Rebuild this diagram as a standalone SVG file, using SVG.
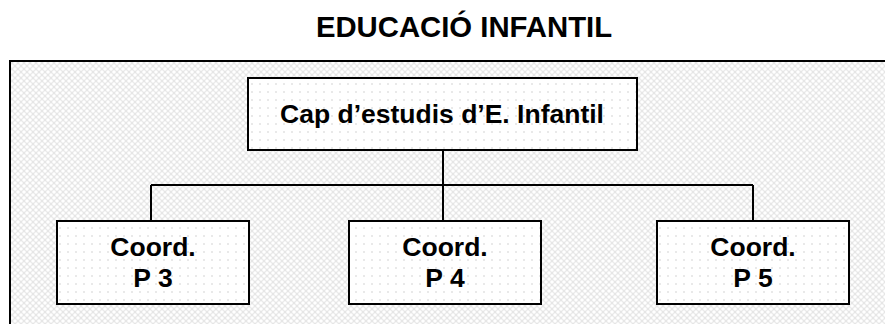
<svg xmlns="http://www.w3.org/2000/svg" width="885" height="324" viewBox="0 0 885 324">
<defs>
<pattern id="bg" width="6" height="6" patternUnits="userSpaceOnUse">
<rect width="6" height="6" fill="#e6e6e6"/>
<circle cx="0" cy="0" r="1.8" fill="#ffffff"/>
<circle cx="6" cy="0" r="1.8" fill="#ffffff"/>
<circle cx="0" cy="6" r="1.8" fill="#ffffff"/>
<circle cx="6" cy="6" r="1.8" fill="#ffffff"/>
<circle cx="3" cy="3" r="1.8" fill="#ffffff"/>
</pattern>
<pattern id="dots" width="8" height="8" patternUnits="userSpaceOnUse">
<rect width="8" height="8" fill="#ffffff"/>
<circle cx="4" cy="4" r="1" fill="#e2e2e2"/>
</pattern>
<style>
.box{fill:url(#dots);stroke:#000;stroke-width:2}
.t{font-family:"Liberation Sans",Arial,sans-serif;font-weight:bold;font-size:26.5px;fill:#000;text-anchor:middle}
.ln{stroke:#000;stroke-width:2;fill:none}
</style>
</defs>
<rect width="885" height="324" fill="#fff"/>
<text x="464" y="37" class="t" style="font-size:29.3px">EDUCACIÓ INFANTIL</text>
<g id="frame">
<rect x="10" y="61" width="875" height="263" fill="url(#bg)"/>
<path d="M10 324 V61 H885" class="ln" stroke-width="2.5"/>
</g>
<g id="connectors">
<path d="M443 150 V221" class="ln"/>
<path d="M151 185 H753" class="ln"/>
<path d="M151 185 V221" class="ln"/>
<path d="M753 185 V221" class="ln"/>
</g>
<g id="cap">
<rect x="248" y="78" width="389" height="72" class="box"/>
<text x="442" y="123" class="t">Cap d’estudis d’E. Infantil</text>
</g>
<g id="p3">
<rect x="57" y="221" width="192" height="83" class="box"/>
<text x="153" y="256" class="t">Coord.</text>
<text x="153" y="287" class="t">P 3</text>
</g>
<g id="p4">
<rect x="349" y="221" width="192" height="83" class="box"/>
<text x="445" y="256" class="t">Coord.</text>
<text x="445" y="287" class="t">P 4</text>
</g>
<g id="p5">
<rect x="657" y="221" width="192" height="83" class="box"/>
<text x="753" y="256" class="t">Coord.</text>
<text x="753" y="287" class="t">P 5</text>
</g>
</svg>
